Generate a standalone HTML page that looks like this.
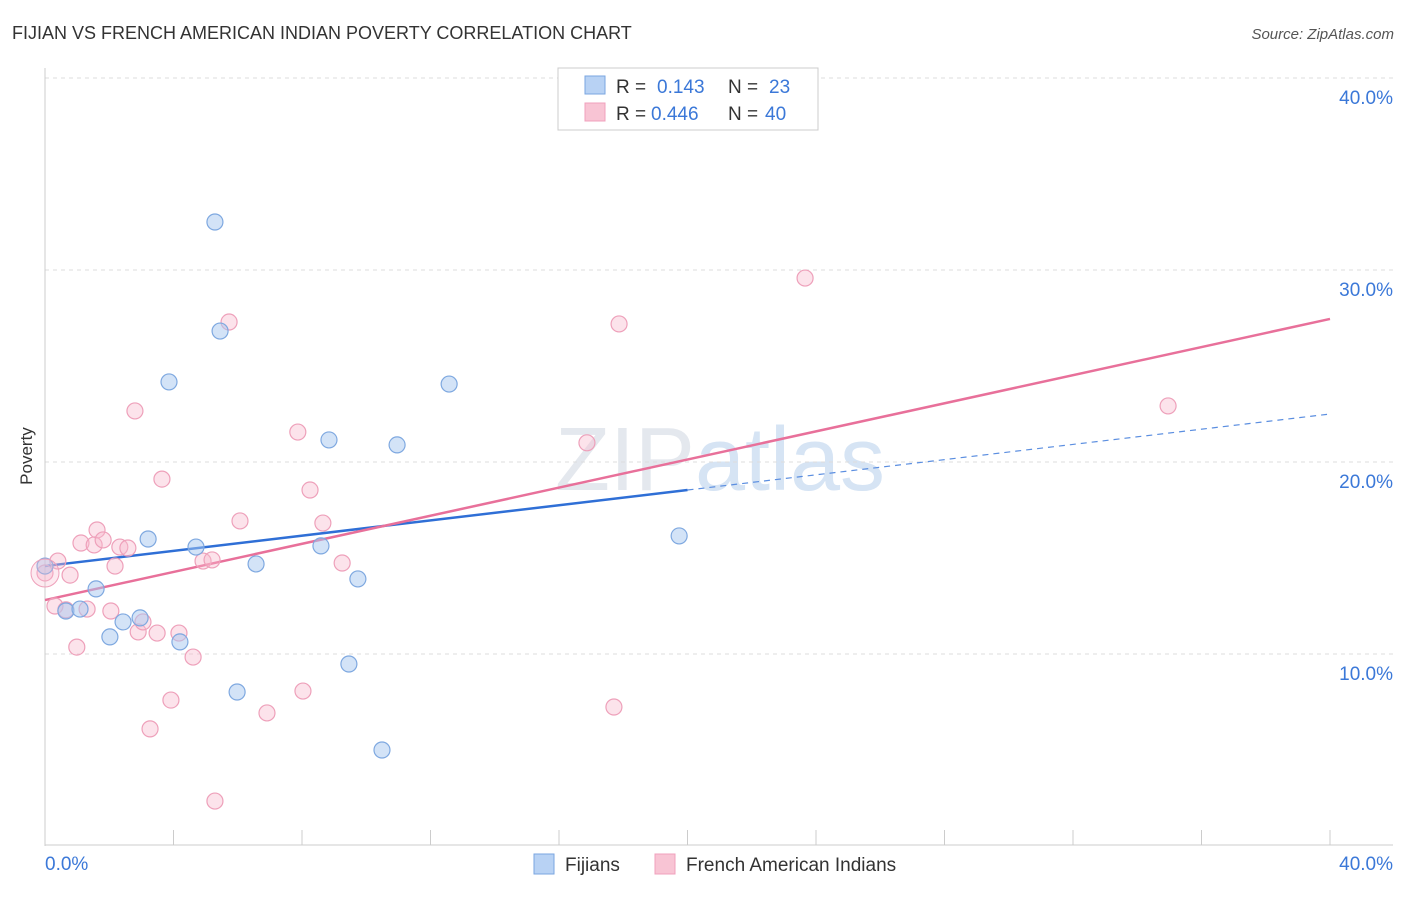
<!DOCTYPE html>
<html><head><meta charset="utf-8"><style>
body{margin:0;background:#fff;font-family:"Liberation Sans",sans-serif}
svg text{font-family:"Liberation Sans",sans-serif}
</style></head><body>
<svg id="chart" width="1406" height="892">
<text x="12" y="39" font-size="18" fill="#333">FIJIAN VS FRENCH AMERICAN INDIAN POVERTY CORRELATION CHART</text>
<text x="1394" y="39" font-size="15" fill="#555" text-anchor="end" font-style="italic">Source: ZipAtlas.com</text>
<text x="32" y="456" font-size="17" fill="#333" text-anchor="middle" transform="rotate(-90 32 456)">Poverty</text>
<text x="720" y="490" font-size="90" fill="#e4e8ee" text-anchor="middle" font-family="Liberation Serif">ZIP<tspan fill="#d6e4f4" font-family="Liberation Sans">atlas</tspan></text>
<g id="grid"></g><g id="lines"></g><g id="pts"></g>
<g>
<rect x="558" y="68" width="260" height="62" fill="#fff" stroke="#ccc"/>
<rect x="585" y="76" width="20" height="18" fill="#b8d2f4" stroke="#7aa6e0"/>
<text x="616" y="93" font-size="19" fill="#333">R =</text>
<text x="657" y="93" font-size="19" fill="#3b78d8">0.143</text>
<text x="728" y="93" font-size="19" fill="#333">N =</text>
<text x="769" y="93" font-size="19" fill="#3b78d8">23</text>
<rect x="585" y="103" width="20" height="18" fill="#f8c4d4" stroke="#f0a0bc"/>
<text x="616" y="120" font-size="19" fill="#333">R =</text>
<text x="651" y="120" font-size="19" fill="#3b78d8">0.446</text>
<text x="728" y="120" font-size="19" fill="#333">N =</text>
<text x="765" y="120" font-size="19" fill="#3b78d8">40</text>
</g>
<g>
<rect x="534" y="854" width="20" height="20" fill="#b8d2f4" stroke="#7aa6e0"/>
<text x="565" y="871" font-size="19" fill="#333">Fijians</text>
<rect x="655" y="854" width="20" height="20" fill="#f8c4d4" stroke="#f0a0bc"/>
<text x="686" y="871" font-size="19" fill="#333">French American Indians</text>
</g>
</svg>
<script>
const yTicks=[10,20,30,40];
const xTickLabels=["0.0%","40.0%"];
const fijiX=[0,0.65,1.09,1.59,2.02,2.43,2.96,3.21,3.86,4.2,4.7,5.29,5.45,5.98,6.57,8.59,8.84,9.46,9.74,10.49,10.96,12.58,19.74];
const fijiY=[14.58,12.24,12.34,13.39,10.89,11.67,11.88,15.99,24.17,10.63,15.57,32.5,26.82,8.02,14.69,15.63,21.15,9.48,13.91,5.0,20.89,24.06,16.15];
const fawX=[0,0.31,0.4,0.78,0.99,1.12,1.31,1.62,1.53,1.81,2.05,2.18,2.33,2.58,2.8,2.9,3.05,3.27,3.49,3.64,3.92,4.17,4.61,4.92,5.2,5.29,5.73,6.07,6.91,7.87,8.03,8.25,8.65,9.25,16.87,17.71,17.87,23.66,34.96,0.65];
const fawY=[14.22,12.5,14.84,14.11,10.36,15.78,12.34,16.46,15.68,15.94,12.24,14.58,15.57,15.52,22.66,11.15,11.67,6.1,11.09,19.11,7.6,11.09,9.84,14.84,14.9,2.34,27.29,16.93,6.93,21.56,8.07,18.54,16.82,14.74,21.0,7.24,27.19,29.58,22.92,12.3];
const fijiTrend=[14.58,22.5];
const fawTrend=[12.81,27.45];
const NS="http://www.w3.org/2000/svg";
const X=v=>45+v*32.125, Y=v=>846-v*19.2;
function mk(t,a,p){const e=document.createElementNS(NS,t);for(const k in a)e.setAttribute(k,a[k]);document.getElementById(p).appendChild(e);return e;}
yTicks.forEach(t=>{
 const l=mk('line',{x1:45,x2:1393,y1:Y(t),y2:Y(t),stroke:'#ddd','stroke-dasharray':'4,4'},'grid');
 
 
 const tx=mk('text',{x:1393,y:Y(t)+26,'font-size':19,fill:'#3b78d8','text-anchor':'end'},'grid');tx.textContent=t.toFixed(1)+'%';
 
 
});
mk('line',{x1:45,x2:45,y1:68,y2:846,stroke:'#ccc'},'grid');
mk('line',{x1:45,x2:1393,y1:845,y2:845,stroke:'#ccc'},'grid');
for(let i=0;i<=10;i++){mk('line',{x1:X(i*4),x2:X(i*4),y1:830,y2:845,stroke:'#ccc'},'grid');}
[[0,'start',45],[40,'end',1393]].forEach((d,i)=>{const t=mk('text',{x:d[2],y:870,'font-size':19,fill:'#3b78d8','text-anchor':d[1]},'grid');t.textContent=xTickLabels[i];
 
 });
function pts(xs,ys,fill,stroke,name){xs.forEach((x,i)=>{const c=mk('circle',{cx:X(x),cy:Y(ys[i]),r:8,fill:fill,stroke:stroke,'stroke-width':1.2},'pts');
 
 });}
pts(fawX,fawY,'rgba(248,184,204,0.4)','#eea0ba','french-american-indian-point');
pts(fijiX,fijiY,'rgba(168,200,240,0.5)','#7ea8e0','fijian-point');
mk('circle',{cx:X(0),cy:Y(14.22),r:14,fill:'rgba(248,184,204,0.3)',stroke:'#eea0ba'},'pts');
const fy=x=>fijiTrend[0]+(fijiTrend[1]-fijiTrend[0])*x/40;
const b1=mk('line',{x1:X(0),y1:Y(fy(0)),x2:X(20),y2:Y(fy(20)),stroke:'#2f6fd6','stroke-width':2.5},'lines');


mk('line',{x1:X(20),y1:Y(fy(20)),x2:X(40),y2:Y(fy(40)),stroke:'#5b8ee0','stroke-width':1.2,'stroke-dasharray':'6,5'},'lines');
const p1=mk('line',{x1:X(0),y1:Y(fawTrend[0]),x2:X(40),y2:Y(fawTrend[1]),stroke:'#e8709a','stroke-width':2.5},'lines');


</script>
</body></html>
